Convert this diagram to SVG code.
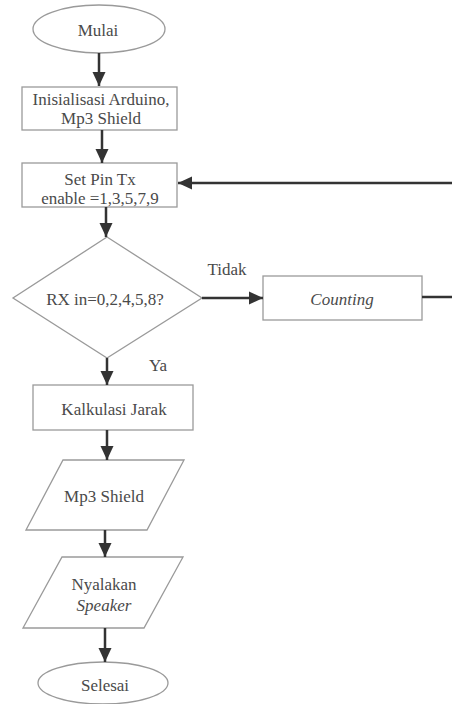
<svg xmlns="http://www.w3.org/2000/svg" width="452" height="704" viewBox="0 0 452 704" font-family="'Liberation Serif', 'DejaVu Serif', serif">
<style>
.s{fill:#fff;stroke:#9a9a9a;stroke-width:1.3}
.t{font-family:'Liberation Serif','DejaVu Serif',serif;font-size:17px;fill:#4a4a4a;text-anchor:middle}
.i{font-style:italic}
.c{fill:none;stroke:#333;stroke-width:2.5}
</style>
<defs>
<marker id="a" markerUnits="userSpaceOnUse" markerWidth="16" markerHeight="16" viewBox="0 0 16 16" refX="15" refY="8" orient="auto">
<path d="M1,1.5 L15,8 L1,14.5 Z" fill="#333"/>
</marker>
</defs>
<rect width="452" height="704" fill="#fff"/>
<g id="mulai"><ellipse class="s" cx="99" cy="29" rx="66" ry="24"/><text class="t" x="98" y="36">Mulai</text></g>
<g id="init"><rect class="s" x="22" y="87" width="155" height="43"/><text class="t" x="101" y="105">Inisialisasi Arduino,</text><text class="t" x="101" y="124">Mp3 Shield</text></g>
<g id="setpin"><rect class="s" x="22" y="163" width="155" height="44"/><text class="t" x="100" y="185">Set Pin Tx</text><text class="t" x="100" y="204">enable =1,3,5,7,9</text></g>
<g id="rx"><polygon class="s" points="107,237 202,298 107,358 13,298"/><text class="t" x="105" y="305">RX in=0,2,4,5,8?</text></g>
<g id="counting"><rect class="s" x="263" y="276" width="159" height="44"/><text class="t i" x="342" y="305">Counting</text></g>
<g id="kalkulasi"><rect class="s" x="33" y="385" width="160" height="45"/><text class="t" x="114" y="415">Kalkulasi Jarak</text></g>
<g id="mp3"><polygon class="s" points="63,460 184,460 147,530 26,530"/><text class="t" x="104" y="502">Mp3 Shield</text></g>
<g id="nyalakan"><polygon class="s" points="62,557 183,557 144,628 23,628"/><text class="t" x="104" y="590">Nyalakan</text><text class="t i" x="104" y="611">Speaker</text></g>
<g id="selesai"><ellipse class="s" cx="103" cy="683" rx="65" ry="21"/><text class="t" x="105" y="691">Selesai</text></g>
<g id="connectors">
<line class="c" x1="99" y1="53" x2="99" y2="86" marker-end="url(#a)"/>
<line class="c" x1="102" y1="130" x2="102" y2="163" marker-end="url(#a)"/>
<line class="c" x1="106" y1="207" x2="106" y2="237" marker-end="url(#a)"/>
<line class="c" x1="107" y1="358" x2="107" y2="385" marker-end="url(#a)"/>
<line class="c" x1="107" y1="430" x2="107" y2="460" marker-end="url(#a)"/>
<line class="c" x1="105" y1="530" x2="105" y2="557" marker-end="url(#a)"/>
<line class="c" x1="105" y1="628" x2="105" y2="662" marker-end="url(#a)"/>
<line class="c" x1="202" y1="298" x2="263" y2="298" marker-end="url(#a)"/>
<line class="c" x1="422" y1="297" x2="452" y2="297"/>
<line class="c" x1="452" y1="183" x2="178" y2="183" marker-end="url(#a)"/>
<text class="t" x="227" y="275">Tidak</text>
<text class="t" x="158" y="371">Ya</text>
</g>
</svg>
